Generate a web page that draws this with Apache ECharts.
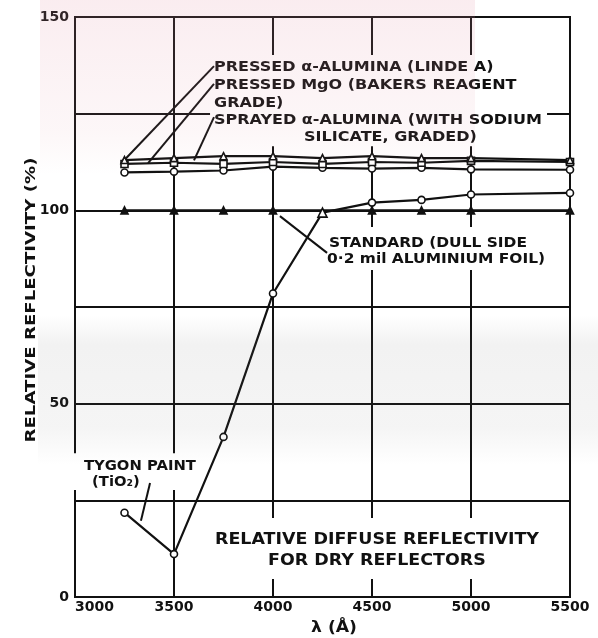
<!DOCTYPE html>
<html>
<head>
<meta charset="utf-8">
<script src="https://cdn.jsdelivr.net/npm/echarts@6/dist/echarts.min.js"></script>
<style>
  html, body { margin: 0; padding: 0; background: #fff; }
  #chart { width: 598px; height: 638px; }
</style>
</head>
<body>
<div id="chart"></div>
<script>
// Wavelengths (Å) at which the reflectors were measured
const wavelengths = [3250, 3500, 3750, 4000, 4250, 4500, 4750, 5000, 5500];

// Relative reflectivity (%) for each reflector
const pressedAlumina = [113, 113.5, 114, 114, 113.5, 114, 113.5, 113.5, 113];
const pressedMgO     = [112, 112.3, 112, 112.5, 112, 112.5, 112.3, 112.8, 112.5];
const sprayedAlumina = [109.8, 110, 110.3, 111.3, 111, 110.8, 111, 110.6, 110.5];
const tygonPaint     = [21.8, 11.1, 41.4, 78.5, 99.4, 102, 102.7, 104.1, 104.5];
const standardFoil   = [100, 100, 100, 100, null, 100, 100, 100, 100];

// Axis ticks
const xTicks = [3000, 3500, 4000, 4500, 5000, 5500];
const yLabelled = [0, 50, 100, 150];

const FONT = 'DejaVu Sans';
const INK = '#111';

function pairs(vals) {
  return wavelengths.map((w, i) => [w, vals[i]]).filter(p => p[1] !== null);
}

function lineSeries(name, vals, symbol, filled) {
  return {
    name, type: 'line', data: pairs(vals),
    symbol, symbolSize: 7, showSymbol: true, z: 5,
    lineStyle: { color: INK, width: 2.2 },
    itemStyle: { color: filled ? INK : '#fff', borderColor: INK, borderWidth: 1.6 },
    emphasis: { disabled: true }, animation: false
  };
}

const chart = echarts.init(document.getElementById('chart'), null, { renderer: 'canvas' });

const tygon = lineSeries('TYGON PAINT', tygonPaint, 'circle', false);
// the point where the paint curve meets the standard is drawn as a triangle
tygon.data = tygon.data.map(p => p[0] === 4250 ? { value: p, symbol: 'triangle', symbolSize: 9 } : p);

chart.setOption({
  animation: false,
  backgroundColor: '#fff',
  grid: { left: 75, right: 28, top: 17, bottom: 41, show: true, borderColor: INK, borderWidth: 2, backgroundColor: 'transparent' },
  xAxis: {
    type: 'value', min: xTicks[0], max: xTicks[xTicks.length - 1], interval: 500,
    axisLine: { show: true, lineStyle: { color: INK, width: 2 } },
    axisTick: { show: false },
    axisLabel: { fontFamily: FONT, fontSize: 14, color: INK, margin: 3, fontWeight: 'bold',
      alignMinLabel: 'left', formatter: v => String(v) },
    splitLine: { show: true, lineStyle: { color: INK, width: 2 } }
  },
  yAxis: {
    type: 'value', min: 0, max: 150, interval: 25,
    axisLine: { show: true, lineStyle: { color: INK, width: 2 } },
    axisTick: { show: false },
    axisLabel: {
      fontFamily: FONT, fontSize: 14, color: INK, margin: 6, fontWeight: 'bold',
      formatter: v => (yLabelled.includes(v) ? String(v) : '')
    },
    splitLine: { show: true, lineStyle: { color: INK, width: 2 } }
  },
  series: [
    lineSeries('STANDARD', standardFoil, 'triangle', true),
    tygon,
    lineSeries('SPRAYED α-ALUMINA', sprayedAlumina, 'circle', false),
    lineSeries('PRESSED MgO', pressedMgO, 'rect', false),
    lineSeries('PRESSED α-ALUMINA', pressedAlumina, 'triangle', false)
  ]
});

// ---- lettering ----
const measureCtx = document.createElement('canvas').getContext('2d');
function textWidth(text, size) {
  measureCtx.font = 'bold ' + size + 'px "' + FONT + '"';
  return measureCtx.measureText(text).width;
}
// horizontal stretch so that a reference line of lettering spans the given width
function stretchFor(text, size, width) {
  return width / textWidth(text, size);
}

const px = (x, y) => chart.convertToPixel({ gridIndex: 0 }, [x, y]);

function box(x0, y0, x1, y1) {
  const a = px(x0, y0), b = px(x1, y1);
  return { type: 'rect', z: 10, silent: true,
    shape: { x: a[0], y: a[1], width: b[0] - a[0], height: b[1] - a[1] },
    style: { fill: '#fff' } };
}
function label(x, y, text, size, stretch, align, rotation) {
  const p = px(x, y);
  return { type: 'text', z: 12, silent: true, x: p[0], y: p[1],
    scaleX: stretch || 1, rotation: rotation || 0,
    style: { text, fontFamily: FONT, fontWeight: 'bold', fontSize: size, fill: INK,
      textAlign: align || 'left', textVerticalAlign: 'middle' } };
}
function leader(x0, y0, x1, y1) {
  const a = px(x0, y0), b = px(x1, y1);
  return { type: 'line', z: 12, silent: true,
    shape: { x1: a[0], y1: a[1], x2: b[0], y2: b[1] },
    style: { stroke: INK, lineWidth: 2 } };
}

const LEG = 14.5;
const legStretch = stretchFor('SPRAYED α-ALUMINA (WITH SODIUM', LEG, 328);
const stdStretch = stretchFor('0·2 mil ALUMINIUM FOIL)', LEG, 218);
const tyStretch = stretchFor('TYGON PAINT', LEG, 112);
const CAP = 15;
const capStretch = stretchFor('RELATIVE DIFFUSE REFLECTIVITY', CAP, 324);
const yTitle = 'RELATIVE REFLECTIVITY (%)';
const yStretch = stretchFor(yTitle, 14, 285);

const graphics = [
  // material legend block
  box(3682, 140.2, 5384, 116.6),
  label(3702, 137.1, 'PRESSED α-ALUMINA (LINDE A)', LEG, legStretch),
  label(3702, 132.4, 'PRESSED MgO (BAKERS REAGENT', LEG, legStretch),
  label(3702, 127.7, 'GRADE)', LEG, legStretch),
  label(3702, 123.3, 'SPRAYED α-ALUMINA (WITH SODIUM', LEG, legStretch),
  label(4157, 118.9, 'SILICATE, GRADED)', LEG, legStretch),
  leader(3702, 137.3, 3253, 113.2),
  leader(3702, 132.7, 3369, 112.2),
  leader(3702, 124.1, 3601, 112.9),
  // standard
  box(4247, 95.7, 5348, 84.6),
  label(4283, 91.5, 'STANDARD (DULL SIDE', LEG, stdStretch),
  label(4273, 87.4, '0·2 mil ALUMINIUM FOIL)', LEG, stdStretch),
  leader(4273, 89, 4035, 98.5),
  // paint
  box(2985, 37.2, 3631, 27.7),
  label(3045, 33.9, 'TYGON PAINT', LEG, tyStretch),
  label(3086, 29.7, '(TiO₂)', LEG, tyStretch),
  leader(3379, 29.5, 3333, 19.7),
  // caption
  box(3697, 20.4, 5374, 4.65),
  label(4525, 14.7, 'RELATIVE DIFFUSE REFLECTIVITY', CAP, capStretch, 'center'),
  label(4525, 9.3, 'FOR DRY REFLECTORS', CAP, capStretch, 'center'),
  // axis titles
  label(4308, -8, 'λ (Å)', 15, 1.15, 'center'),
  label(2778, 76.8, yTitle, 14, yStretch, 'center', Math.PI / 2)
];

// faint pink tint across the upper left of the sheet
graphics.push({ type: 'rect', z: 20, silent: true,
  shape: { x: 40, y: 0, width: 435, height: 175 },
  style: { fill: new echarts.graphic.LinearGradient(0, 0, 0, 1, [
    { offset: 0, color: 'rgba(225,140,160,0.16)' },
    { offset: 0.75, color: 'rgba(225,150,165,0.08)' },
    { offset: 1, color: 'rgba(225,150,165,0)' }
  ]) } });
// soft grey show-through band across the middle of the sheet
graphics.push({ type: 'rect', z: 20, silent: true,
  shape: { x: 38, y: 315, width: 560, height: 150 },
  style: { fill: new echarts.graphic.LinearGradient(0, 0, 0, 1, [
    { offset: 0, color: 'rgba(110,110,110,0)' },
    { offset: 0.2, color: 'rgba(110,110,110,0.09)' },
    { offset: 0.75, color: 'rgba(110,110,110,0.07)' },
    { offset: 1, color: 'rgba(110,110,110,0)' }
  ]) } });

chart.setOption({ graphic: graphics });
</script>
</body>
</html>
